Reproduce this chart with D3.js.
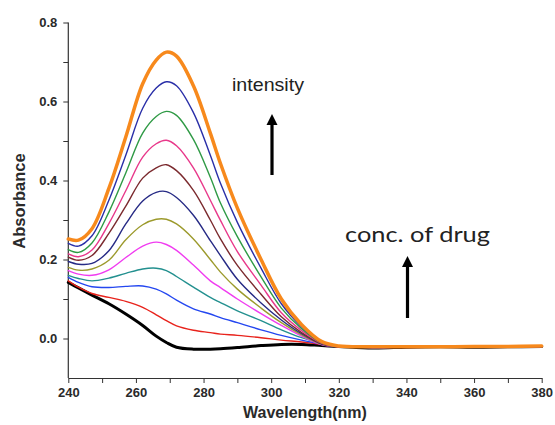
<!DOCTYPE html>
<html><head><meta charset="utf-8">
<script src="https://cdn.jsdelivr.net/npm/d3@7"></script>
<style>body{margin:0;background:#fff}svg{display:block}</style>
</head><body>
<svg id="c" width="555" height="425"></svg>
<script>
const wavelength=[240,243,247,252,257,262,266,269,272,277,282,285,290,297,303,309,315,320,330,340,350,360,370,380];
const black  =[0.142,0.128,0.110,0.088,0.062,0.033,0.006,-0.010,-0.022,-0.027,-0.027,-0.026,-0.023,-0.018,-0.015,-0.015,-0.018,-0.020,-0.024,-0.022,-0.021,-0.022,-0.021,-0.020];
const red    =[0.146,0.130,0.114,0.104,0.094,0.079,0.060,0.045,0.032,0.021,0.015,0.011,0.008,0.002,-0.004,-0.009,-0.015,-0.020,-0.023,-0.022,-0.022,-0.021,-0.022,-0.021];
const blue   =[0.155,0.142,0.131,0.129,0.132,0.133,0.125,0.113,0.097,0.075,0.062,0.053,0.040,0.022,0.008,-0.004,-0.014,-0.020,-0.023,-0.022,-0.022,-0.022,-0.021,-0.021];
const teal   =[0.160,0.152,0.146,0.153,0.165,0.176,0.178,0.172,0.157,0.130,0.104,0.091,0.070,0.045,0.022,0.002,-0.013,-0.020,-0.023,-0.022,-0.022,-0.022,-0.021,-0.020];
const magenta=[0.172,0.163,0.160,0.174,0.205,0.234,0.244,0.238,0.223,0.186,0.146,0.129,0.100,0.063,0.033,0.006,-0.016,-0.020,-0.023,-0.022,-0.022,-0.021,-0.022,-0.020];
const olive  =[0.180,0.173,0.176,0.198,0.250,0.288,0.302,0.302,0.290,0.252,0.200,0.168,0.125,0.077,0.040,0.009,-0.015,-0.021,-0.022,-0.022,-0.022,-0.021,-0.021,-0.020];
const navy   =[0.195,0.188,0.190,0.222,0.290,0.348,0.370,0.372,0.357,0.312,0.248,0.210,0.150,0.090,0.047,0.012,-0.014,-0.021,-0.022,-0.022,-0.022,-0.022,-0.021,-0.020];
const brown  =[0.206,0.198,0.210,0.266,0.335,0.406,0.432,0.440,0.425,0.375,0.300,0.252,0.185,0.112,0.055,0.015,-0.013,-0.021,-0.022,-0.023,-0.022,-0.022,-0.021,-0.020];
const pink   =[0.214,0.207,0.224,0.291,0.374,0.459,0.493,0.502,0.488,0.432,0.350,0.299,0.220,0.135,0.065,0.020,-0.012,-0.021,-0.022,-0.022,-0.022,-0.021,-0.021,-0.020];
const green  =[0.225,0.218,0.242,0.320,0.419,0.520,0.562,0.575,0.565,0.504,0.408,0.343,0.258,0.156,0.077,0.025,-0.011,-0.020,-0.022,-0.022,-0.022,-0.022,-0.021,-0.020];
const royal  =[0.241,0.234,0.260,0.350,0.464,0.583,0.634,0.650,0.640,0.572,0.464,0.393,0.294,0.178,0.088,0.030,-0.010,-0.020,-0.022,-0.022,-0.022,-0.021,-0.021,-0.020];
const orange =[0.252,0.249,0.278,0.380,0.510,0.645,0.705,0.725,0.715,0.640,0.520,0.443,0.330,0.200,0.100,0.035,-0.008,-0.019,-0.021,-0.021,-0.021,-0.020,-0.020,-0.019];

const xTicks=[240,260,280,300,320,340,360,380];
const yTicks=[0.0,0.2,0.4,0.6,0.8];
const xTitle="Wavelength(nm)";
const yTitle="Absorbance";
const note1="intensity";
const note2="conc. of drug";

const series=[black,red,blue,teal,magenta,olive,navy,brown,pink,green,royal,orange];
const colors=["#000000","#e8231c","#2447f0","#23908f","#f03cf0","#9c9a2c","#262a85","#7b2a2e","#e8388a","#2f9a45","#2a2fa8","#f7891c"];
const widths=[3,1.4,1.4,1.4,1.4,1.4,1.4,1.4,1.4,1.4,1.4,3.5];

const svg=d3.select("#c");
const x=d3.scaleLinear().domain([240,380]).range([68.3,541.7]);
const y=d3.scaleLinear().domain([-0.1,0.8]).range([378,22.5]);

// axes
const xAxis=d3.axisBottom(x).tickValues(d3.range(240,381,10)).tickSize(5).tickSizeOuter(0).tickPadding(5)
  .tickFormat(d=>xTicks.includes(d)?String(d):"");
const gx=svg.append("g").attr("transform","translate(0,378)").call(xAxis);
const yAxis=d3.axisLeft(y).tickValues(d3.range(0,9).map(i=>+(i*0.1).toFixed(1))).tickSize(5).tickSizeOuter(0).tickPadding(6)
  .tickFormat(d=>yTicks.some(t=>Math.abs(t-d)<1e-9)?d3.format(".1f")(d):"");
const gy=svg.append("g").attr("transform","translate(68.3,0)").call(yAxis);
svg.selectAll(".domain").attr("stroke","#333").attr("stroke-width",1.2);
svg.selectAll(".tick line").attr("stroke","#333").attr("stroke-width",1);
svg.selectAll(".tick text").attr("font-family","Liberation Sans, Arial, sans-serif").attr("font-weight","bold").attr("font-size",13).attr("fill","#2a2a2a");
gy.select(".domain").attr("d","M0,378V22.5");

// lines
const line=d3.line().x((d,i)=>x(wavelength[i])).y(d=>y(d)).curve(d3.curveCatmullRom.alpha(0.5));
svg.append("g").selectAll("path").data(series).join("path")
  .attr("d",d=>line(d)).attr("fill","none")
  .attr("stroke",(d,i)=>colors[i]).attr("stroke-width",(d,i)=>widths[i])
  .attr("stroke-linejoin","round").attr("stroke-linecap","round");

// titles
svg.append("text").attr("x",305).attr("y",418).attr("text-anchor","middle")
  .attr("font-family","Liberation Sans, Arial, sans-serif").attr("font-weight","bold").attr("font-size",16).attr("fill","#2a2a2a").text(xTitle);
svg.append("text").attr("transform","translate(25,201) rotate(-90)").attr("text-anchor","middle")
  .attr("font-family","Liberation Sans, Arial, sans-serif").attr("font-weight","bold").attr("font-size",16.5).attr("fill","#2a2a2a").text(yTitle);

// annotations
svg.append("text").attr("x",232).attr("y",91).attr("font-family","Liberation Sans, Arial, sans-serif")
  .attr("font-size",18.5).attr("fill","#222").attr("textLength",72).attr("lengthAdjust","spacingAndGlyphs").text(note1);
svg.append("text").attr("x",345).attr("y",242).attr("font-family","Lato, Open Sans, sans-serif")
  .attr("font-size",22).attr("fill","#222").attr("textLength",145).attr("lengthAdjust","spacingAndGlyphs").text(note2);

function arrow(xc,yTop,yBot){
  svg.append("line").attr("x1",xc).attr("x2",xc).attr("y1",yBot).attr("y2",yTop+8).attr("stroke","#000").attr("stroke-width",3.2);
  svg.append("path").attr("d",`M${xc},${yTop} L${xc-5.5},${yTop+11} L${xc+5.5},${yTop+11} Z`).attr("fill","#000");
}
arrow(272,114,175);
arrow(407.5,256,318);
</script>
</body></html>
